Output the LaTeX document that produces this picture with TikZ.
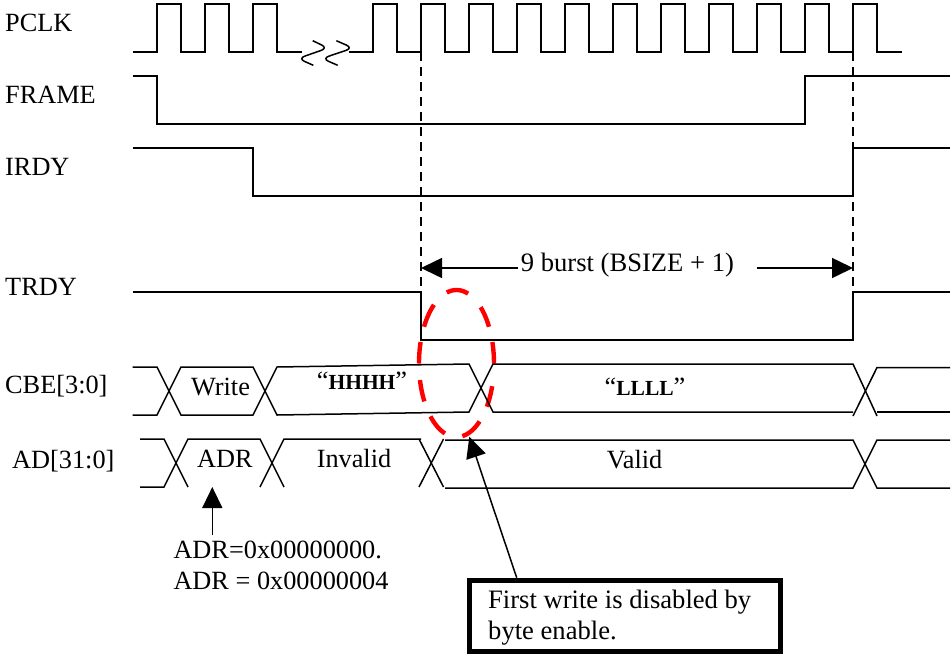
\documentclass[tikz,border=0pt]{standalone}
\usepackage{fontspec}
\setmainfont{Liberation Serif}
\usetikzlibrary{arrows.meta}
\tikzset{
  wave/.style={line width=1.5pt, line join=miter},
  guide/.style={line width=1.6pt, dash pattern=on 9pt off 6pt},
  callout/.style={line width=1.5pt, -{Triangle[length=21pt,width=20pt]}},
  lbl/.style={anchor=base west, inner sep=0pt, yshift=-0.7pt, font=\fontsize{26.3}{31}\selectfont},
  ctr/.style={anchor=base, inner sep=0pt, yshift=-0.7pt, font=\fontsize{26.3}{31}\selectfont},
  highlight/.style={draw={rgb,255:red,255;green,0;blue,0}, line width=4.4pt}
}
\newcommand{\bld}[1]{{\fontsize{21.5}{26}\selectfont\bfseries #1}}
\begin{document}
\begin{tikzpicture}[x=1pt,y=-1pt]
\useasboundingbox (0,0) rectangle (952,656);
\fill[white] (0,0) rectangle (952,656);
% highlight ellipse, dash by dash
\foreach \a/\b in {105/72, 50/30, 17/0, -18/-36, -52/-81, -108/-134, -149/-167, 180/163, 150/127}
  \draw[highlight] plot[domain=\a:\b, samples=14, smooth] ({456.5+37.5*cos(\x)},{363.5-73.5*sin(\x)});
% labels
\node[lbl] (pclk) at (5,31) {PCLK};
\node[lbl] (frame) at (5,103) {FRAME};
\node[lbl] (irdy) at (5,175) {IRDY};
\node[lbl] (trdy) at (5,295) {TRDY};
\node[lbl] (cbe) at (5,392.7) {CBE[3:0]};
\node[lbl] (ad) at (12,467.3) {AD[31:0]};
% PCLK
\draw[wave] (132.5,52) -- (157,52) -- (157,4) -- (181,4) -- (181,52) -- (205,52) -- (205,4) -- (229,4) -- (229,52) -- (253,52) -- (253,4) -- (277,4) -- (277,52) -- (301.7,52);
\draw[wave] (348.7,52) -- (373,52) -- (373,4) -- (397,4) -- (397,52) -- (421,52) -- (421,4) -- (445,4) -- (445,52) -- (469,52) -- (469,4) -- (493,4) -- (493,52) -- (517,52) -- (517,4) -- (541,4) -- (541,52) -- (565,52) -- (565,4) -- (589,4) -- (589,52) -- (613,52) -- (613,4) -- (637,4) -- (637,52) -- (661,52) -- (661,4) -- (685,4) -- (685,52) -- (709,52) -- (709,4) -- (733,4) -- (733,52) -- (757,52) -- (757,4) -- (781,4) -- (781,52) -- (805,52) -- (805,4) -- (829,4) -- (829,52) -- (853,52) -- (853,4) -- (877,4) -- (877,52) -- (901.7,52);
% break marks
\draw[wave, rounded corners=7pt] (312.7,40.7) -- (328,48) -- (298,58.5) -- (313.3,65.3);
\draw[wave, rounded corners=7pt] (336.3,40.7) -- (353,48) -- (322,58.5) -- (337.7,65.3);
% FRAME
\draw[wave] (132.5,76) -- (157,76) -- (157,124) -- (805,124) -- (805,76) -- (950,76);
% IRDY
\draw[wave] (132.5,148) -- (253,148) -- (253,196) -- (853,196) -- (853,148) -- (950,148);
% TRDY
\draw[wave] (132.5,292) -- (421,292) -- (421,340) -- (853,340) -- (853,292) -- (950,292);
% guides
\draw[guide] (421,52) -- (421,292);
\draw[guide] (853,52) -- (853,292);
% CBE
\draw[wave] (132.5,367) -- (157,367) -- (181,415) -- (253,415) -- (277,367) -- (469,364) -- (493,412) -- (853,412);
\draw[wave] (132.5,415) -- (157,415) -- (181,367) -- (253,367) -- (277,415) -- (469,412) -- (493,364) -- (853,364) -- (877,416);
\draw[wave] (853,416) -- (877,367.5) -- (950,367.5);
\draw[wave] (877,412) -- (950,412);
% AD
\draw[wave] (140,439) -- (164,439) -- (188,487);
\draw[wave] (140,487) -- (164,487) -- (188,439) -- (260,439) -- (284,487);
\draw[wave] (260,487) -- (284,439) -- (421,439);
\draw[wave] (419,439) -- (443.5,487);
\draw[wave] (419,487) -- (443.5,439);
\draw[wave] (445,440) -- (853,440) -- (877,488) -- (950,488);
\draw[wave] (445,488) -- (853,488) -- (877,440) -- (950,440);
% bus texts
\node[ctr] (write) at (220.5,395) {Write};
\node[ctr] (hhhh) at (362,389) {“\bld{HHHH}”};
\node[ctr] (llll) at (645,395) {“\bld{LLLL}”};
\node[ctr] (adr) at (225,467) {ADR};
\node[ctr] (invalid) at (354,467) {Invalid};
\node[ctr] (valid) at (634.5,468) {Valid};
% burst
\node[lbl, font=\fontsize{26.6}{31}\selectfont] (burst) at (520.7,270.7) {9 burst (BSIZE + 1)};
\coordinate (bl) at (421,268);
\coordinate (bls) at (518,268);
\coordinate (brs) at (756.7,268);
\coordinate (br) at (853,268);
\draw[callout] (bls) -- (bl);
\draw[callout] (brs) -- (br);
% ADR note
\node[lbl] (adr1) at (173.3,557.7) {ADR=0x00000000.};
\node[lbl] (adr2) at (173.3,588.3) {ADR = 0x00000004};
\coordinate (adrs) at (212.3,535);
\coordinate (adrt) at (212.3,487);
\draw[callout] (adrs) -- (adrt);
% note box
\node[draw, line width=4.7pt, minimum width=311.4pt, minimum height=71.6pt, inner sep=0pt, anchor=center] (box) at (625,616) {};
\node[lbl, font=\fontsize{26.6}{31}\selectfont] (n1) at (488,608) {First write is disabled by};
\node[lbl, font=\fontsize{26.6}{31}\selectfont] (n2) at (488,639) {byte enable.};
\coordinate (boxs) at (516.7,577.7);
\coordinate (boxt) at (469.3,436.7);
\draw[callout] (boxs) -- (boxt);
\end{tikzpicture}
\end{document}
